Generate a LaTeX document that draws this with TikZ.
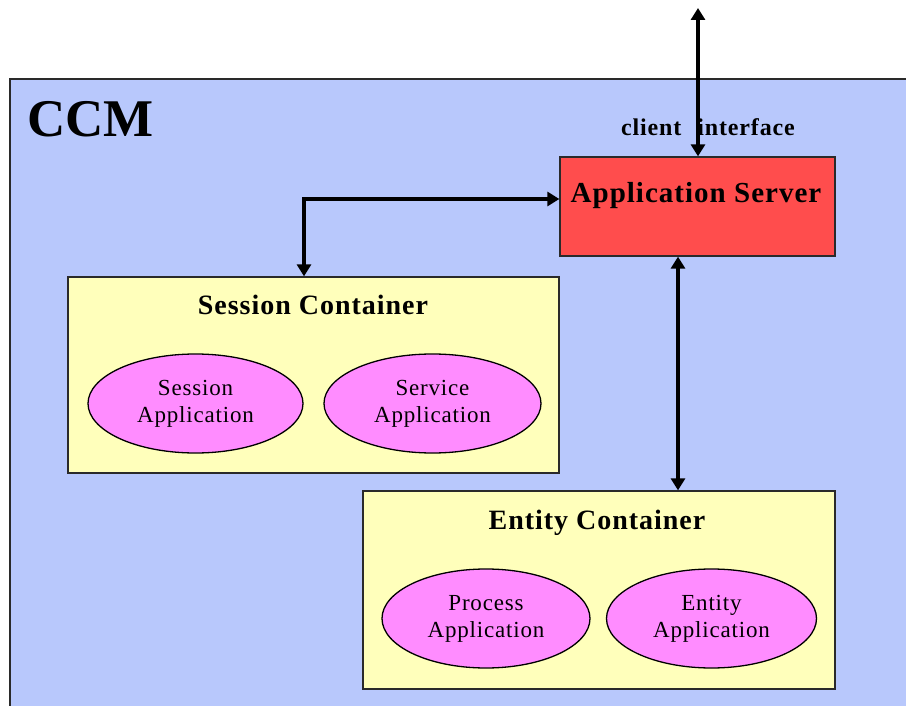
\documentclass[tikz,border=0pt]{standalone}
\usepackage{fontspec}
\setmainfont{Liberation Serif}
\newfontfamily\spacedserif[LetterSpace=3.5]{Liberation Serif}
\usetikzlibrary{arrows.meta,shapes.geometric}

\definecolor{ccmblue}{HTML}{B8C8FC}
\definecolor{serverred}{HTML}{FF4D4D}
\definecolor{contyellow}{HTML}{FFFFBB}
\definecolor{apppink}{HTML}{FF8CFF}
\definecolor{edge}{HTML}{2A2A2A}

\tikzset{
  box/.style={draw=edge, line width=1.3pt, rectangle, inner sep=0pt},
  appnode/.style={draw=black, line width=1.3pt, ellipse, fill=apppink, inner sep=0pt,
                  align=center, font=\spacedserif\fontsize{23}{27}\selectfont},
  title/.style={anchor=base, font=\spacedserif\fontsize{28}{32}\selectfont\bfseries, inner sep=0pt},
  link/.style={line width=3.8pt, {Triangle[width=14pt,length=12pt]}-{Triangle[width=14pt,length=12pt]}},
}

\begin{document}
\begin{tikzpicture}[x=1pt,y=-1pt]
  \useasboundingbox (0,0) rectangle (906,706);

  % CCM area: open to the right and bottom
  \fill[ccmblue] (10,79) rectangle (906,706);
  \draw[edge, line width=1.3pt] (10,706) -- (10,79) -- (906,79);
  \node[anchor=base west, inner sep=0pt, font=\fontsize{53}{60}\selectfont\bfseries]
    (ccm) at (27,137) {CCM};

  % application server
  \node[box, fill=serverred, minimum width=275pt, minimum height=99pt]
    (appsrv) at (697.5,206.5) {};
  \node[title, font=\spacedserif\fontsize{29}{33}\selectfont\bfseries] (appsrvtext) at (696,203) {Application Server};

  % client interface
  \coordinate (client) at (698,8);
  \node[anchor=base, inner sep=0pt, font=\spacedserif\fontsize{24}{28}\selectfont\bfseries]
    (clientlbl) at (708,136) {client\hspace{16pt}interface};

  % session container
  \node[box, fill=contyellow, minimum width=491pt, minimum height=196pt]
    (sess) at (313.5,375) {};
  \node[title] (sesstitle) at (313,314) {Session Container};
  \node[appnode, minimum width=215pt, minimum height=99pt] (sessapp) at (195.5,403.5) {Session\\Application};
  \node[appnode, minimum width=217pt, minimum height=99pt] (servapp) at (432.5,403.5) {Service\\Application};

  % entity container
  \node[box, fill=contyellow, minimum width=472pt, minimum height=198pt]
    (ent) at (599,590) {};
  \node[title] (enttitle) at (597,529) {Entity Container};
  \node[appnode, minimum width=208pt, minimum height=99pt] (procapp) at (486,618.5) {Process\\Application};
  \node[appnode, minimum width=210pt, minimum height=99pt] (entapp) at (711.5,618.5) {Entity\\Application};

  % connectors
  \coordinate (bend) at (304,199);
  \coordinate (down) at (678,370);
  \draw[link] (client) -- (appsrv.north -| client);
  \draw[link] (appsrv.west |- bend) -- (bend) -- (sess.north -| bend);
  \draw[link] (appsrv.south -| down) -- (ent.north -| down);
\end{tikzpicture}
\end{document}
